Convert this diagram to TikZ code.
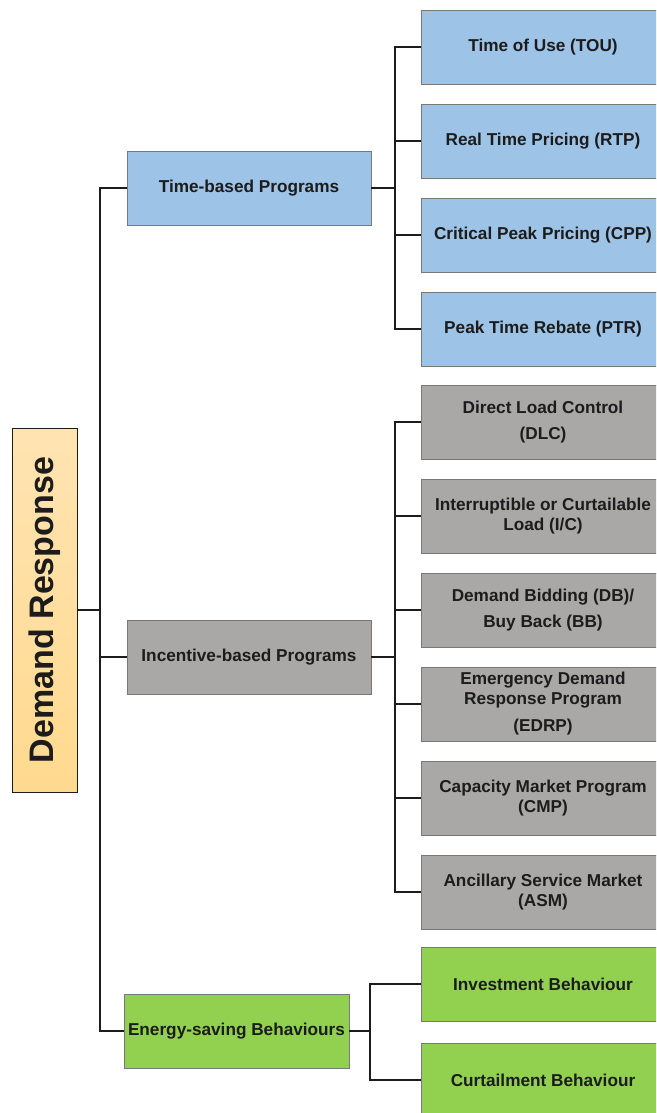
\documentclass[tikz,border=0pt]{standalone}
\usepackage{fontspec}
\setmainfont{Liberation Sans}
\usetikzlibrary{positioning}

\definecolor{tbblue}{RGB}{157,195,230}
\definecolor{ibgrey}{RGB}{170,167,167}
\definecolor{esgreen}{RGB}{146,208,80}
\definecolor{edgegrey}{RGB}{120,120,120}
\definecolor{rootlight}{RGB}{255,228,178}
\definecolor{rootdark}{RGB}{255,217,142}
\definecolor{inkdark}{RGB}{28,28,28}

\begin{document}
\begin{tikzpicture}[x=1pt,y=-1pt]
% define box types
\tikzstyle{box}=[draw=edgegrey, line width=0.8pt, rectangle, inner sep=0pt,
    minimum width=244pt, minimum height=74pt, align=center, text=inkdark,
    font=\fontsize{17.2}{20}\selectfont\bfseries]
\tikzstyle{timebox}=[box, fill=tbblue]
\tikzstyle{incbox}=[box, fill=ibgrey]
\tikzstyle{savebox}=[box, fill=esgreen]
\tikzstyle{rootbox}=[draw=inkdark, line width=1pt, rectangle, inner sep=0pt,
    minimum width=65pt, minimum height=364pt, top color=rootlight,
    bottom color=rootdark, text=inkdark,
    font=\fontsize{34}{36}\selectfont\bfseries]
\tikzstyle{a}=[line width=2pt, draw=inkdark]
\useasboundingbox (0,0) rectangle (656,1113);
\clip (0,0) rectangle (656,1113);
% root
\node[rootbox] (dr) at (44.5,610) {\rotatebox{90}{Demand Response}};
% programs
\node[timebox] (time) at (249,188) {Time-based Programs};
\node[incbox] (inc) at (249,657) {Incentive-based Programs};
\node[savebox, minimum width=225pt] (save) at (236.5,1031) {Energy-saving Behaviours};
% time-based
\node[timebox] (tou) at (543,47) {Time of Use (TOU)};
\node[timebox] (rtp) at (543,141) {Real Time Pricing (RTP)};
\node[timebox] (cpp) at (543,235) {Critical Peak Pricing (CPP)};
\node[timebox] (ptr) at (543,329) {Peak Time Rebate (PTR)};
% incentive-based
\node[incbox] (dlc) at (543,422) {Direct Load Control\\[6pt](DLC)};
\node[incbox] (ic) at (543,516) {Interruptible or Curtailable\\Load (I/C)};
\node[incbox] (db) at (543,610) {Demand Bidding (DB)/\\[6pt]Buy Back (BB)};
\node[incbox] (edrp) at (543,704) {Emergency Demand\\Response Program\\[7pt](EDRP)};
\node[incbox] (cmp) at (543,798) {Capacity Market Program\\(CMP)};
\node[incbox] (asm) at (543,892) {Ancillary Service Market\\(ASM)};
% energy-saving
\node[savebox] (inv) at (543,984) {Investment Behaviour};
\node[savebox] (curt) at (543,1080) {Curtailment Behaviour};
% junctions
\coordinate (trunk) at (100,610);
\coordinate (tbus) at (395,188);
\coordinate (ibus) at (395,657);
\coordinate (sbus) at (370,1031);
% first layer
\draw[a] (dr) -- (trunk);
\draw[a] (trunk) |- (time);
\draw[a] (trunk) |- (inc);
\draw[a] (trunk) |- (save);
% second layer
\draw[a] (time) -- (tbus);
\foreach \n in {tou,rtp,cpp,ptr}
  \draw[a] (tbus) |- (\n);
\draw[a] (inc) -- (ibus);
\foreach \n in {dlc,ic,db,edrp,cmp,asm}
  \draw[a] (ibus) |- (\n);
\draw[a] (save) -- (sbus);
\foreach \n in {inv,curt}
  \draw[a] (sbus) |- (\n);
\end{tikzpicture}
\end{document}
